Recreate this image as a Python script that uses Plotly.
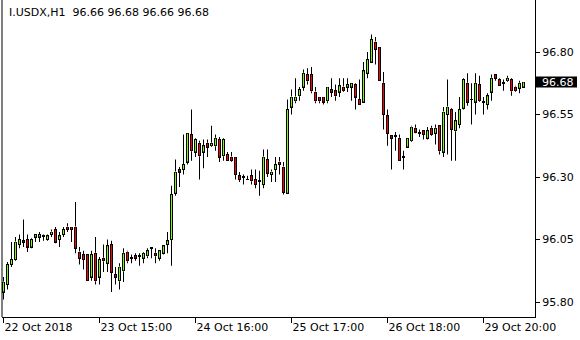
import plotly.graph_objects as go

symbol = "I.USDX,H1"
header_values = ["96.66", "96.68", "96.66", "96.68"]

opens = [95.84, 95.87, 95.95, 95.97, 96.03, 96.04, 96.05, 96.02, 96.06, 96.06,
         96.065, 96.05, 96.07, 96.09, 96.05, 96.07, 96.10, 96.10, 96.10, 96.00,
         95.99, 95.99, 95.90, 95.995, 95.90, 95.975, 95.955, 96.03, 95.91, 95.885,
         95.925, 96.00, 95.975, 95.985, 95.985, 95.975, 95.985, 96.015, 95.995, 95.975,
         95.995, 96.03, 96.05, 96.235, 96.33, 96.33, 96.36, 96.47, 96.40, 96.435,
         96.40, 96.435, 96.425, 96.425, 96.45, 96.385, 96.39, 96.38, 96.38, 96.305,
         96.30, 96.29, 96.305, 96.29, 96.285, 96.27, 96.37, 96.31, 96.33, 96.36,
         96.34, 96.235, 96.58, 96.605, 96.625, 96.66, 96.71, 96.71, 96.64, 96.62,
         96.62, 96.605, 96.65, 96.645, 96.64, 96.66, 96.66, 96.66, 96.67, 96.61,
         96.60, 96.715, 96.76, 96.84, 96.82, 96.675, 96.545, 96.465, 96.465, 96.455,
         96.38, 96.42, 96.445, 96.495, 96.475, 96.485, 96.455, 96.495, 96.475, 96.505,
         96.40, 96.55, 96.57, 96.485, 96.51, 96.575, 96.675, 96.61, 96.60, 96.67,
         96.60, 96.59, 96.64, 96.71, 96.69, 96.675, 96.685, 96.69, 96.66, 96.655,
         96.66]
highs = [95.90, 95.96, 96.04, 96.06, 96.07, 96.13, 96.07, 96.055, 96.07, 96.08,
         96.07, 96.07, 96.09, 96.10, 96.08, 96.10, 96.115, 96.10, 96.20, 96.02,
         96.005, 95.99, 96.005, 96.06, 95.98, 96.03, 96.05, 96.045, 95.94, 95.955,
         96.015, 96.005, 95.99, 95.995, 95.995, 96.00, 96.015, 96.015, 96.015, 96.005,
         96.025, 96.08, 96.265, 96.37, 96.34, 96.47, 96.475, 96.57, 96.455, 96.445,
         96.45, 96.45, 96.505, 96.47, 96.46, 96.455, 96.40, 96.40, 96.38, 96.32,
         96.31, 96.305, 96.33, 96.33, 96.325, 96.41, 96.41, 96.33, 96.38, 96.38,
         96.36, 96.61, 96.65, 96.695, 96.66, 96.73, 96.735, 96.74, 96.66, 96.62,
         96.62, 96.66, 96.695, 96.67, 96.695, 96.695, 96.695, 96.675, 96.675, 96.69,
         96.76, 96.80, 96.87, 96.86, 96.82, 96.72, 96.57, 96.465, 96.48, 96.47,
         96.405, 96.455, 96.505, 96.51, 96.49, 96.485, 96.50, 96.505, 96.51, 96.505,
         96.58, 96.69, 96.575, 96.56, 96.62, 96.695, 96.715, 96.675, 96.715, 96.705,
         96.62, 96.635, 96.71, 96.71, 96.695, 96.69, 96.705, 96.695, 96.665, 96.685,
         96.68]
lows = [95.81, 95.85, 95.94, 95.965, 96.015, 96.02, 96.00, 96.015, 96.04, 96.04,
        96.045, 96.045, 96.06, 96.035, 96.02, 96.06, 96.08, 96.04, 95.995, 95.95,
        95.93, 95.885, 95.885, 95.87, 95.87, 95.92, 95.92, 95.84, 95.87, 95.85,
        95.88, 95.955, 95.955, 95.965, 95.945, 95.955, 95.975, 95.975, 95.955, 95.965,
        95.99, 95.995, 95.945, 96.225, 96.26, 96.31, 96.35, 96.365, 96.38, 96.29,
        96.335, 96.38, 96.42, 96.405, 96.36, 96.365, 96.365, 96.36, 96.29, 96.28,
        96.27, 96.29, 96.27, 96.255, 96.225, 96.255, 96.30, 96.28, 96.28, 96.31,
        96.23, 96.235, 96.55, 96.595, 96.605, 96.645, 96.67, 96.635, 96.595, 96.595,
        96.59, 96.595, 96.62, 96.605, 96.62, 96.64, 96.64, 96.605, 96.57, 96.59,
        96.60, 96.695, 96.76, 96.75, 96.685, 96.49, 96.425, 96.33, 96.405, 96.365,
        96.33, 96.42, 96.44, 96.475, 96.46, 96.45, 96.45, 96.465, 96.43, 96.39,
        96.38, 96.39, 96.365, 96.365, 96.495, 96.57, 96.585, 96.51, 96.55, 96.60,
        96.55, 96.57, 96.605, 96.685, 96.665, 96.645, 96.68, 96.625, 96.64, 96.635,
        96.66]
closes = [95.88, 95.95, 95.97, 96.04, 96.05, 96.045, 96.02, 96.05, 96.07, 96.07,
          96.065, 96.065, 96.08, 96.04, 96.065, 96.09, 96.09, 96.09, 96.015, 95.975,
          95.97, 95.885, 95.99, 95.885, 95.97, 95.965, 96.025, 95.92, 95.90, 95.94,
          95.995, 95.965, 95.975, 95.975, 95.985, 95.995, 96.005, 96.015, 95.985, 96.005,
          96.025, 96.045, 96.23, 96.32, 96.32, 96.35, 96.475, 96.405, 96.45, 96.385,
          96.425, 96.42, 96.435, 96.455, 96.38, 96.45, 96.365, 96.365, 96.31, 96.29,
          96.30, 96.29, 96.285, 96.27, 96.285, 96.38, 96.315, 96.32, 96.35, 96.35,
          96.24, 96.57, 96.62, 96.62, 96.65, 96.715, 96.685, 96.645, 96.605, 96.605,
          96.60, 96.66, 96.64, 96.625, 96.665, 96.645, 96.67, 96.675, 96.62, 96.59,
          96.725, 96.77, 96.85, 96.81, 96.685, 96.55, 96.475, 96.455, 96.465, 96.365,
          96.38, 96.455, 96.50, 96.48, 96.475, 96.47, 96.485, 96.47, 96.495, 96.405,
          96.56, 96.58, 96.49, 96.525, 96.57, 96.69, 96.60, 96.61, 96.675, 96.605,
          96.60, 96.625, 96.695, 96.695, 96.665, 96.675, 96.695, 96.645, 96.645, 96.675,
          96.68]

bars = list(range(len(opens)))
tick_bars = [0, 24, 48, 72, 96, 120]
tick_labels = ["22 Oct 2018", "23 Oct 15:00", "24 Oct 16:00",
               "25 Oct 17:00", "26 Oct 18:00", "29 Oct 20:00"]
y_ticks = [96.80, 96.55, 96.30, 96.05, 95.80]
y_tick_labels = ["96.80", "96.55", "96.30", "96.05", "95.80"]
last_price = closes[-1]

FONT = "DejaVu Sans, Verdana, sans-serif"
BULL = "#7CFC00"
BEAR = "#FF0000"
OUTLINE = "#000000"

# layout geometry (styling)
W, H = 580, 340
M_L, M_R, M_T, M_B = 2, 45, 0, 23
Y_RANGE = [95.74, 97.008]
X_RANGE = [-0.375, 132.875]
PX_Y = (Y_RANGE[1] - Y_RANGE[0]) / (H - M_T - M_B)   # price per pixel
OUTER_W = 0.75   # outlined body: 3 px

# derived drawing series (all from the OHLC arrays)
body_top = [max(o, c) for o, c in zip(opens, closes)]
body_base = [min(o, c) for o, c in zip(opens, closes)]
outer_base = [b - PX_Y / 2 for b in body_base]
outer_len = [t - b + PX_Y for t, b in zip(body_top, body_base)]

# wicks only outside the bodies
wick_x, wick_y = [], []
for i, h, l, t, b in zip(bars, highs, lows, body_top, body_base):
    if h > t:
        wick_x += [i, i, None]
        wick_y += [t + PX_Y / 2, h, None]
    if l < b:
        wick_x += [i, i, None]
        wick_y += [l, b - PX_Y / 2, None]

# coloured 1-px cores of the bodies, drawn on top of the black outline bars
bull_x, bull_y, bear_x, bear_y = [], [], [], []
for i, o, c, t, b in zip(bars, opens, closes, body_top, body_base):
    if t - b > PX_Y:
        if c >= o:
            bull_x += [i, i, None]
            bull_y += [b + PX_Y / 2, t - PX_Y / 2, None]
        else:
            bear_x += [i, i, None]
            bear_y += [b + PX_Y / 2, t - PX_Y / 2, None]

fig = go.Figure()
fig.add_trace(go.Bar(x=bars, y=outer_len, base=outer_base, width=OUTER_W,
                     marker=dict(color=OUTLINE, line=dict(width=0)),
                     hoverinfo="skip"))
fig.add_trace(go.Scatter(x=wick_x, y=wick_y, mode="lines",
                         line=dict(color=OUTLINE, width=1),
                         hoverinfo="skip"))
fig.add_trace(go.Scatter(x=bull_x, y=bull_y, mode="lines",
                         line=dict(color=BULL, width=1),
                         hoverinfo="skip"))
fig.add_trace(go.Scatter(x=bear_x, y=bear_y, mode="lines",
                         line=dict(color=BEAR, width=1),
                         hoverinfo="skip"))

fig.update_layout(
    width=W, height=H,
    margin=dict(l=M_L, r=M_R, t=M_T, b=M_B),
    paper_bgcolor="white", plot_bgcolor="white",
    showlegend=False, barmode="overlay", bargap=0,
    font=dict(family=FONT, size=11, color="#000000"),
    xaxis=dict(
        range=X_RANGE, fixedrange=True,
        showgrid=False, zeroline=False,
        showline=True, linecolor="#000000", linewidth=1,
        tickmode="array", tickvals=tick_bars, ticktext=tick_labels,
        ticks="outside", ticklen=5, tickcolor="#000000",
        ticklabelposition="outside right",
        tickfont=dict(family=FONT, size=11, color="#000000"),
    ),
    yaxis=dict(
        range=Y_RANGE, fixedrange=True, side="right",
        showgrid=False, zeroline=False,
        showline=True, linecolor="#000000", linewidth=1,
        tickmode="array", tickvals=y_ticks, ticktext=y_tick_labels,
        ticks="outside", ticklen=4, tickcolor="#000000",
        tickfont=dict(family=FONT, size=11, color="#000000"),
    ),
    shapes=[
        dict(type="line", xref="paper", yref="paper", x0=0, x1=0, y0=0, y1=1,
             line=dict(color="#000000", width=1)),
        dict(type="rect", xref="paper", yref="y", xsizemode="pixel", ysizemode="pixel",
             xanchor=1, x0=1, x1=42, yanchor=last_price, y0=-5.5, y1=5.5,
             fillcolor="#000000", line=dict(width=0), layer="above"),
    ],
    annotations=[
        dict(xref="paper", yref="paper", x=5 / 533, y=1, yshift=-4,
             xanchor="left", yanchor="top", showarrow=False,
             text=symbol + "  " + " ".join(header_values),
             font=dict(family=FONT, size=11, color="#000000")),
        dict(xref="paper", yref="y", x=1, y=last_price, xshift=5,
             xanchor="left", yanchor="middle", showarrow=False,
             text=f"{last_price:.2f}",
             font=dict(family=FONT, size=11, color="#FFFFFF")),
    ],
)

fig.write_html("out.html")
